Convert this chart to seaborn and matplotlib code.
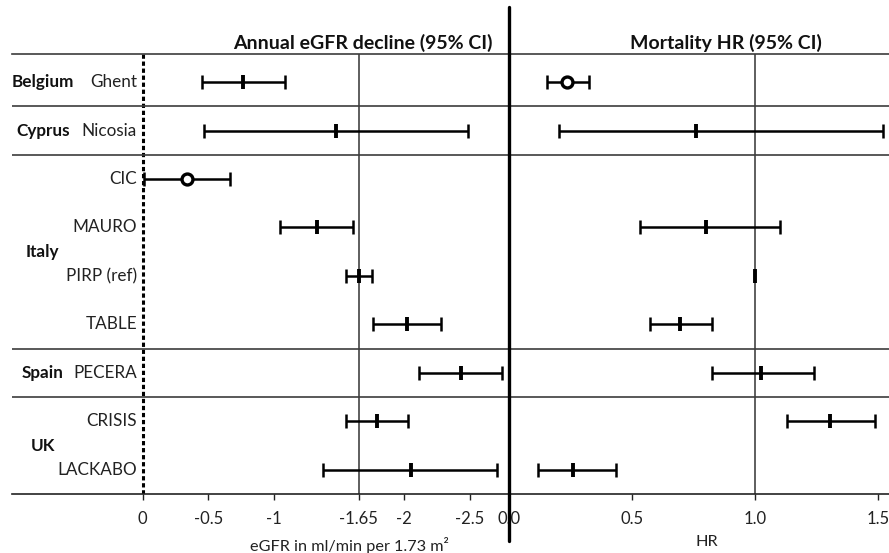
import numpy as np
import pandas as pd
import matplotlib
matplotlib.use('Agg')
import matplotlib.pyplot as plt
from matplotlib.lines import Line2D
import seaborn as sns

# -----------------------
# Data
# -----------------------
studies = ['Ghent', 'Nicosia', 'CIC', 'MAURO', 'PIRP (ref)', 'TABLE', 'PECERA', 'CRISIS', 'LACKABO']
study_country = ['Belgium', 'Cyprus', 'Italy', 'Italy', 'Italy', 'Italy', 'Spain', 'UK', 'UK']

egfr_est = [-0.77, -1.48, -0.335, -1.33, -1.65, -2.02, -2.43, -1.79, -2.05]
egfr_lo = [-0.45, -0.475, 0.0, -1.05, -1.55, -1.76, -2.11, -1.55, -1.39]
egfr_hi = [-1.09, -2.49, -0.66, -1.61, -1.75, -2.28, -2.75, -2.03, -2.72]
egfr_marker = ['|', '|', 'o', '|', '|', '|', '|', '|', '|']

hr_est = [0.234, 0.76, np.nan, 0.80, 1.0, 0.694, 1.025, 1.306, 0.26]
hr_lo = [0.155, 0.204, np.nan, 0.534, np.nan, 0.572, 0.825, 1.132, 0.116]
hr_hi = [0.326, 1.52, np.nan, 1.10, np.nan, 0.824, 1.24, 1.49, 0.434]
hr_marker = ['o', '|', '|', '|', '|', '|', '|', '|', '|']

egfr_ticks = [0, -0.5, -1, -1.65, -2, -2.5]
egfr_ticklabels = ['0', '-0.5', '-1', '-1.65', '-2', '-2.5']
hr_ticks = [0, 0.5, 1.0, 1.5]
hr_ticklabels = ['0.0', '0.5', '1.0', '1.5']
egfr_ref = -1.65
hr_ref = 1.0

df = pd.DataFrame({'study': studies, 'country': study_country,
                   'egfr': egfr_est, 'egfr_lo': egfr_lo, 'egfr_hi': egfr_hi, 'egfr_m': egfr_marker,
                   'hr': hr_est, 'hr_lo': hr_lo, 'hr_hi': hr_hi, 'hr_m': hr_marker})
df['row'] = np.arange(len(df))

# -----------------------
# Style
# -----------------------
sns.set_style('white')
plt.rcParams['font.family'] = ['Lato', 'DejaVu Sans']
plt.rcParams['axes.unicode_minus'] = False

W, H = 889, 553
fig = plt.figure(figsize=(W / 100, H / 100), dpi=100)

x_left, x_mid, x_right = 12 / W, 509 / W, 1.0
y_bot, y_top = 1 - 494 / H, 1 - 54 / H
ax1 = fig.add_axes([x_left, y_bot, x_mid - x_left, y_top - y_bot])
ax2 = fig.add_axes([x_mid, y_bot, x_right - x_mid, y_top - y_bot])

sep_color = '#3c3c3c'
ylim = (8.5, -0.58)

# group separators
groups = df.groupby('country', sort=False)['row']
group_first = groups.min().values
group_center = groups.mean()


def draw_panel(ax, col, lo, hi, mcol):
    ax.errorbar(df[col], df['row'],
                xerr=[np.abs(df[col] - df[lo]), np.abs(df[hi] - df[col])],
                fmt='none', ecolor='black', elinewidth=1.8, capsize=4.8, capthick=1.8)
    ticks = df[df[mcol] == '|']
    circ = df[df[mcol] == 'o']
    sns.scatterplot(data=ticks, x=col, y='row', marker='|', s=115, linewidth=2.8,
                    color='black', ax=ax, legend=False, zorder=3)
    ax.scatter(circ[col], circ['row'], marker='o', s=62, facecolors='white',
               edgecolors='black', linewidths=2.4, zorder=4)
    for g in group_first[1:]:
        ax.axhline(g - 0.5, color=sep_color, lw=1.2)
    ax.set_ylim(*ylim)
    ax.set_yticks([])
    ax.set_ylabel('')
    ax.set_xlabel('')
    for s in ['left', 'right']:
        ax.spines[s].set_visible(False)
    for s in ['top', 'bottom']:
        ax.spines[s].set_color(sep_color)
        ax.spines[s].set_linewidth(1.2)
    ax.spines['bottom'].set_color('#222222')
    ax.tick_params(axis='x', bottom=True, length=4, width=1, color='#222222',
                   pad=8, labelsize=12, labelcolor='#222222')


# -----------------------
# Left panel: annual eGFR decline
# -----------------------
draw_panel(ax1, 'egfr', 'egfr_lo', 'egfr_hi', 'egfr_m')
ax1.set_xlim(1.0, -2.8)
ax1.set_xticks(egfr_ticks)
ax1.set_xticklabels(egfr_ticklabels)
ax1.axvline(egfr_ref, color='#333333', lw=1.1, zorder=1)
ax1.axvline(0, color='black', lw=2.2, linestyle=(0, (1.4, 0.9)), zorder=1)

for _, r in df.iterrows():
    ax1.text(0.045, r['row'], r['study'], ha='right', va='center',
             fontsize=12.3, color='#222222')
for country, yc in group_center.items():
    ax1.text(0.765, yc, country, ha='center', va='center',
             fontsize=12.3, fontweight='bold', color='#111111')

ax1.text(0.706, 1.024, 'Annual eGFR decline (95% CI)', transform=ax1.transAxes,
         ha='center', va='center', fontsize=14, fontweight='bold', color='#111111')
ax1.text(0.678, -0.116, 'eGFR in ml/min per 1.73 m²', transform=ax1.transAxes,
         ha='center', va='center', fontsize=11.7, color='#222222')

# -----------------------
# Right panel: mortality HR
# -----------------------
draw_panel(ax2, 'hr', 'hr_lo', 'hr_hi', 'hr_m')
ax2.set_xlim(0, 1.545)
ax2.set_xticks(hr_ticks)
ax2.set_xticklabels(hr_ticklabels)
ax2.axvline(hr_ref, color='#333333', lw=1.1, zorder=1)

ax2.text(0.572, 1.024, 'Mortality HR (95% CI)', transform=ax2.transAxes,
         ha='center', va='center', fontsize=14, fontweight='bold', color='#111111')
ax2.text(0.521, -0.11, 'HR', transform=ax2.transAxes,
         ha='center', va='center', fontsize=11.7, color='#222222')

# thick divider between the two panels
fig.add_artist(Line2D([x_mid, x_mid], [1 - 7 / H, 1 - 541 / H],
                      color='black', lw=2.4, transform=fig.transFigure))

fig.savefig('out.png', dpi=100)
